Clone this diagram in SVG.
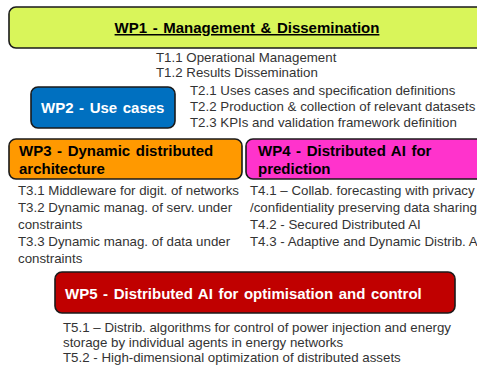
<svg xmlns="http://www.w3.org/2000/svg" width="477" height="366" viewBox="0 0 477 366">
<style>
.box{stroke:#1a1a1a;stroke-width:1.6}
.tt{font-family:"Liberation Sans",Arial,sans-serif;font-weight:bold;font-size:15px;word-spacing:1.4px}
.tk{font-family:"Liberation Sans",Arial,sans-serif;font-size:13.3px;fill:#333}
</style>
<rect width="477" height="366" fill="#fff"/>
<g id="wp1">
<rect class="box" x="9" y="7" width="490" height="41" rx="7" fill="#d9f55a"/>
<text class="tt" x="247" y="33" text-anchor="middle" text-decoration="underline" fill="#000">WP1 - Management &amp; Dissemination</text>
<text class="tk" x="156" y="62">T1.1 Operational Management</text>
<text class="tk" x="156" y="77">T1.2 Results Dissemination</text>
</g>
<g id="wp2">
<rect class="box" x="31" y="87" width="144" height="41" rx="7" fill="#0070c0"/>
<text class="tt" x="41" y="113" fill="#fff">WP2 - Use cases</text>
<text class="tk" x="190" y="95">T2.1 Uses cases and specification definitions</text>
<text class="tk" x="190" y="111">T2.2 Production &amp; collection of relevant datasets</text>
<text class="tk" x="190" y="127">T2.3 KPIs and validation framework definition</text>
</g>
<g id="wp3">
<rect class="box" x="9" y="139" width="233" height="40" rx="7" fill="#ff9900"/>
<text class="tt" x="19" y="156" fill="#000">WP3 - Dynamic distributed</text>
<text class="tt" x="19" y="174" fill="#000">architecture</text>
<text class="tk" x="18" y="195">T3.1 Middleware for digit. of networks</text>
<text class="tk" x="18" y="212">T3.2 Dynamic manag. of serv. under</text>
<text class="tk" x="18" y="229">constraints</text>
<text class="tk" x="18" y="246">T3.3 Dynamic manag. of data under</text>
<text class="tk" x="18" y="263">constraints</text>
</g>
<g id="wp4">
<rect class="box" x="246" y="139" width="250" height="40" rx="7" fill="#ff33cc"/>
<text class="tt" x="258" y="156" fill="#000">WP4 - Distributed AI for</text>
<text class="tt" x="258" y="174" fill="#000">prediction</text>
<text class="tk" x="250" y="195">T4.1 – Collab. forecasting with privacy</text>
<text class="tk" x="250" y="212">/confidentiality preserving data sharing</text>
<text class="tk" x="250" y="229">T4.2 - Secured Distributed AI</text>
<text class="tk" x="250" y="246">T4.3 - Adaptive and Dynamic Distrib. AI</text>
</g>
<g id="wp5">
<rect class="box" x="55" y="272" width="400" height="41" rx="7" fill="#c00000"/>
<text class="tt" x="65" y="299" fill="#fff">WP5 - Distributed AI for optimisation and control</text>
<text class="tk" x="63" y="332">T5.1 – Distrib. algorithms for control of power injection and energy</text>
<text class="tk" x="63" y="347">storage by individual agents in energy networks</text>
<text class="tk" x="63" y="362">T5.2 - High-dimensional optimization of distributed assets</text>
</g>
<g id="connectors"/>
</svg>
